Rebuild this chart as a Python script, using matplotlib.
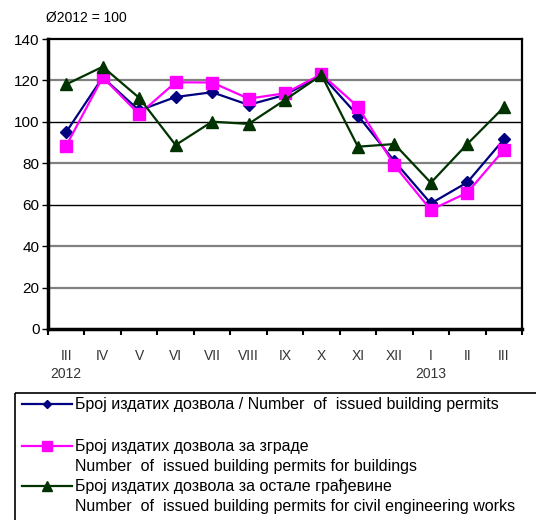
import matplotlib.pyplot as plt
from matplotlib.lines import Line2D
from matplotlib.patches import Rectangle

plt.rcParams['font.family'] = ['Liberation Sans', 'DejaVu Sans']

# months from III 2012 to III 2013
months = ["III", "IV", "V", "VI", "VII", "VIII", "IX", "X", "XI", "XII", "I", "II", "III"]
total = [95.1, 121.5, 105.5, 112.0, 114.3, 108.2, 113.0, 122.5, 103.0, 81.0, 60.6, 70.8, 91.5]
buildings = [88.5, 121.5, 103.7, 119.1, 119.0, 111.2, 113.8, 123.0, 107.3, 79.0, 57.5, 65.8, 86.4]
civil = [118.1, 126.6, 111.6, 88.8, 100.1, 99.0, 110.6, 122.6, 88.0, 89.3, 70.6, 89.3, 107.0]
years = {0: "2012", 10: "2013"}

labels = [
    "Број издатих дозвола / Number  of  issued building permits",
    "Број издатих дозвола за зграде\nNumber  of  issued building permits for buildings",
    "Број издатих дозвола за остале грађевине\nNumber  of  issued building permits for civil engineering works",
]
colors = ["#000080", "#FF00FF", "#003300"]
markers = ["D", "s", "^"]
msizes = [6.5, 9, 9]

W, H = 536, 520
fig = plt.figure(figsize=(W / 100, H / 100), dpi=100)
ax = fig.add_axes([48 / W, 1 - 329 / H, (522 - 48) / W, (329 - 39) / H])

x = list(range(len(months)))
for vals, c, m, ms in zip([total, buildings, civil], colors, markers, msizes):
    ax.plot(x, vals, color=c, marker=m, markersize=ms, linewidth=1.6,
            markeredgecolor=c, clip_on=False, zorder=3)

ax.set_xlim(-0.5, len(months) - 0.5)
ax.set_ylim(0, 140)
ax.set_yticks(range(0, 141, 20))
ax.tick_params(axis='y', labelsize=11, length=4, width=1, pad=2)

# gridlines
for yv in [20, 40, 80, 120]:
    ax.axhline(yv, color="#808080", linewidth=1.6, zorder=1)
for yv in [60, 100]:
    ax.axhline(yv, color="black", linewidth=1.0, zorder=1)

# x ticks between categories, labels at centers
ax.set_xticks([i - 0.5 for i in range(len(months) + 1)])
ax.set_xticklabels([])
ax.tick_params(axis='x', length=4, width=1.5, direction='out')
for i, m in enumerate(months):
    ax.text(i, -0.07, m, transform=ax.get_xaxis_transform(), ha='center', va='top',
            fontsize=10, color="#333333")
for i, yr in years.items():
    ax.text(i, -0.132, yr, transform=ax.get_xaxis_transform(), ha='center', va='top',
            fontsize=10, color="#333333")

for side in ['left', 'bottom']:
    ax.spines[side].set_linewidth(2.5)
for side in ['top', 'right']:
    ax.spines[side].set_linewidth(1.6)

fig.text(46 / W, 1 - 18 / H, "Ø2012 = 100", fontsize=10, va='center', ha='left')

# legend drawn in pixel coordinates
lax = fig.add_axes([0, 0, 1, 1], facecolor='none')
lax.set_xlim(0, W)
lax.set_ylim(H, 0)
lax.axis('off')
lax.add_patch(Rectangle((15, 393), 540, 140, fill=False, edgecolor='black', linewidth=1.2, clip_on=False))
rows = [404, 446, 486]
for lab, y, c, m, ms in zip(labels, rows, colors, markers, msizes):
    lax.add_line(Line2D([22, 72], [y, y], color=c, linewidth=1.6))
    lax.plot([47], [y], marker=m, color=c, markersize=ms - 2, linestyle='none')
    for k, part in enumerate(lab.split("\n")):
        lax.text(75, y + k * 20, part, fontsize=11.5, va='center', ha='left')

fig.savefig("out.png", dpi=100)
